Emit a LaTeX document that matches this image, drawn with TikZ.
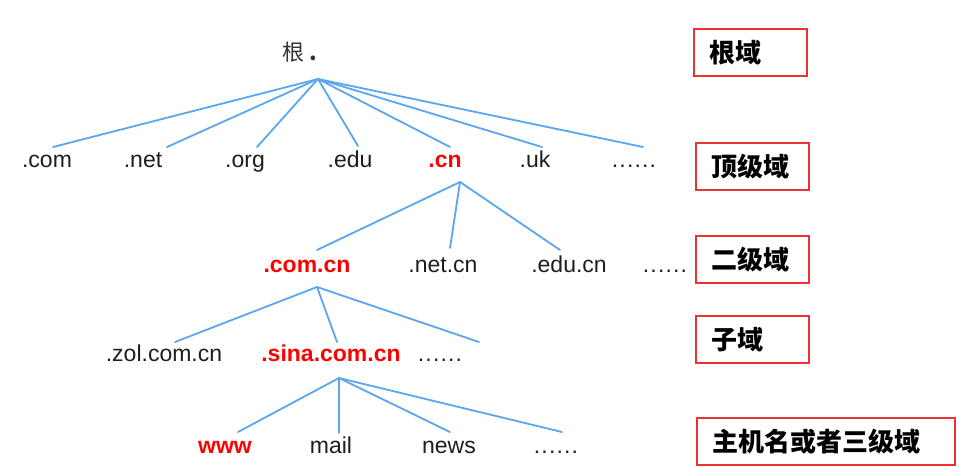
\documentclass[tikz,border=0pt]{standalone}
\usepackage{fontspec}
\setmainfont{Liberation Sans}
\newfontfamily\cjk{Noto Sans CJK SC}
\definecolor{linkblue}{RGB}{90,166,240}
\definecolor{boxred}{RGB}{234,50,50}
\definecolor{labeltext}{RGB}{30,30,30}
\begin{document}
\begin{tikzpicture}[x=1pt,y=-1pt,
  link/.style={draw=linkblue, line width=1.8pt, line cap=round},
  lbl/.style={inner sep=0pt, anchor=base, text=labeltext, font=\fontsize{23}{23}\selectfont},
  hl/.style={lbl, text=red, font=\fontsize{23}{23}\selectfont\bfseries},
  dotsl/.style={lbl, font=\fontsize{23}{23}\selectfont\addfontfeatures{LetterSpace=5}},
  tag/.style={draw=boxred, line width=2pt, anchor=north west, minimum height=47pt,
    inner xsep=15pt, inner ysep=0pt, text width=#1, align=left, text=black,
    font=\cjk\bfseries\fontsize{26}{26}\selectfont},
  tag/.default=83pt
]
\useasboundingbox (0,0) rectangle (968,466);
\fill[white] (0,0) rectangle (968,466);

% root
\node[inner sep=0pt, text=black!80, font=\cjk\fontsize{22}{22}\selectfont] (root) at (300,52) {根\hspace{5pt}\textbf{.}};

% level 1
\node[lbl] (com) at (47,167) {.com};
\node[lbl] (net) at (143,167) {.net};
\node[lbl] (org) at (245,167) {.org};
\node[lbl] (edu) at (350,167) {.edu};
\node[hl]  (cn)  at (445,167) {.cn};
\node[lbl] (uk)  at (535,167) {.uk};
\node[dotsl] (d1) at (634,167) {......};

% level 2
\node[hl]  (comcn) at (307,272) {.com.cn};
\node[lbl] (netcn) at (443,272) {.net.cn};
\node[lbl] (educn) at (569,272) {.edu.cn};
\node[dotsl] (d2) at (665,272) {......};

% level 3
\node[lbl] (zol)  at (164,361) {.zol.com.cn};
\node[hl]  (sina) at (331,361) {.sina.com.cn};
\node[dotsl] (d3) at (440,361) {......};

% level 4
\node[hl]  (www)  at (225,453) {www};
\node[lbl] (mail) at (331,453) {mail};
\node[lbl] (news) at (449,453) {news};
\node[dotsl] (d4) at (556,453) {......};

% junctions
\coordinate (rj) at (318,79);
\coordinate (cnj) at (460,182);
\coordinate (comj) at (317,287);
\coordinate (sinaj) at (339,378);

% line ends
\coordinate (e-com) at (53,147);
\coordinate (e-net) at (167,147);
\coordinate (e-org) at (257,147);
\coordinate (e-edu) at (358,146);
\coordinate (e-cn) at (450,147);
\coordinate (e-uk) at (542,147);
\coordinate (e-d1) at (643,147);
\coordinate (e-comcn) at (317,250);
\coordinate (e-netcn) at (450,248);
\coordinate (e-educn) at (560,250);
\coordinate (e-zol) at (175,342);
\coordinate (e-sina) at (337,342);
\coordinate (e-d3) at (479,342);
\coordinate (e-www) at (238,432);
\coordinate (e-mail) at (339,433);
\coordinate (e-news) at (450,432);
\coordinate (e-d4) at (562,432);

\foreach \t in {com,net,org,edu,cn,uk,d1} \draw[link] (rj) -- (e-\t);
\foreach \t in {comcn,netcn,educn} \draw[link] (cnj) -- (e-\t);
\foreach \t in {zol,sina,d3} \draw[link] (comj) -- (e-\t);
\foreach \t in {www,mail,news,d4} \draw[link] (sinaj) -- (e-\t);

% level tags
\node[tag] (t1) at (693,28) {根域};
\node[tag] (t2) at (695,142) {顶级域};
\node[tag] (t3) at (695,235) {二级域};
\node[tag] (t4) at (695,315) {子域};
\node[tag=228pt] (t5) at (696,417) {主机名或者三级域};
\end{tikzpicture}
\end{document}
